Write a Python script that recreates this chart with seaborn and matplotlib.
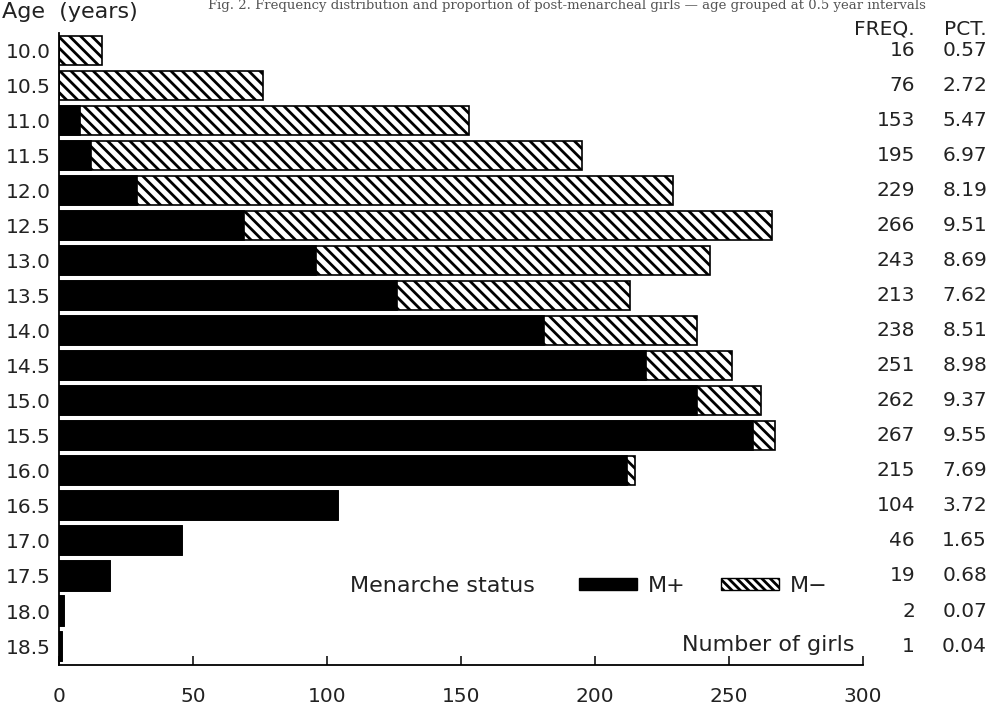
import matplotlib
matplotlib.use("Agg")
import matplotlib.pyplot as plt
import matplotlib.patches as mpatches
import matplotlib.transforms as mtransforms
import pandas as pd
import seaborn as sns

# --- data ---
ages = ["10.0", "10.5", "11.0", "11.5", "12.0", "12.5", "13.0", "13.5", "14.0",
        "14.5", "15.0", "15.5", "16.0", "16.5", "17.0", "17.5", "18.0", "18.5"]
freq = [16, 76, 153, 195, 229, 266, 243, 213, 238,
        251, 262, 267, 215, 104, 46, 19, 2, 1]
pct = ["0.57", "2.72", "5.47", "6.97", "8.19", "9.51", "8.69", "7.62", "8.51",
       "8.98", "9.37", "9.55", "7.69", "3.72", "1.65", "0.68", "0.07", "0.04"]
m_plus = [0, 0, 8, 12, 29, 69, 96, 126, 181,
          219, 238, 259, 212, 104, 46, 19, 2, 1]

df = pd.DataFrame({"age": ages, "total": freq, "mplus": m_plus})

sns.set_style("white")
plt.rcParams["font.family"] = ["DejaVu Sans"]
plt.rcParams["hatch.linewidth"] = 2.0
plt.rcParams["hatch.color"] = "black"
TXT = "#222222"

fig = plt.figure(figsize=(9.95, 7.15), dpi=100)
ax = fig.add_axes([0.0593, 0.0699, 0.808, 0.8846])

# totals drawn hatched (M-), then M+ in black over them
sns.barplot(data=df, x="total", y="age", order=ages, orient="h", ax=ax,
            color="white", saturation=1, width=0.83, edgecolor="black",
            linewidth=1.2, hatch="\\\\\\")
sns.barplot(data=df, x="mplus", y="age", order=ages, orient="h", ax=ax,
            color="black", saturation=1, width=0.83, edgecolor="black",
            linewidth=1.2)

ax.set_xlim(0, 300)
ax.set_ylim(17.54, -0.5)
ax.set_xticks([0, 50, 100, 150, 200, 250, 300])
ax.tick_params(axis="x", direction="in", length=6.5, width=1.3, pad=16,
               labelsize=14.5, labelcolor=TXT, bottom=True)
ax.tick_params(axis="y", length=0, pad=6, labelsize=14.5, labelcolor=TXT)
ax.set_ylabel("")
for s in ["top", "right"]:
    ax.spines[s].set_visible(False)
for s in ["bottom", "left"]:
    ax.spines[s].set_linewidth(1.3)
    ax.spines[s].set_color("black")

ax.set_xlabel("Number of girls", fontsize=16, color=TXT, ha="right", va="center")
ax.xaxis.set_label_coords(0.99, 0.032)

# frequency / percentage columns on the right
trans = mtransforms.blended_transform_factory(fig.transFigure, ax.transData)
ax.text(0.9196, -0.6, "FREQ.", transform=trans, ha="right", va="center",
        fontsize=14.5, color=TXT)
ax.text(0.992, -0.6, "PCT.", transform=trans, ha="right", va="center",
        fontsize=14.5, color=TXT)
for i, (f, p) in enumerate(zip(freq, pct)):
    ax.text(0.9196, i, str(f), transform=trans, ha="right", va="center",
            fontsize=14.5, color=TXT)
    ax.text(0.992, i, p, transform=trans, ha="right", va="center",
            fontsize=14.5, color=TXT)

fig.text(0.002, 0.983, "Age  (years)", ha="left", va="center", fontsize=16, color=TXT)

# legend
ax.text(0.362, 0.125, "Menarche status", transform=ax.transAxes, ha="left",
        va="center", fontsize=16, color=TXT)
h_plus = mpatches.Rectangle((0, 0), 1, 1, facecolor="black", edgecolor="black")
h_minus = mpatches.Rectangle((0, 0), 1, 1, facecolor="white", edgecolor="black",
                             hatch="\\\\\\\\")
ax.legend([h_plus, h_minus], ["M+", "M\u2212"], ncol=2, frameon=False,
          loc="center left", bbox_to_anchor=(0.633, 0.125), borderpad=0,
          handlelength=2.6, handleheight=0.4, handletextpad=0.5,
          columnspacing=1.6, fontsize=16, labelcolor=TXT)

# caption line at the very top of the scan
fig.text(0.57, 0.992, "Fig. 2. Frequency distribution and proportion of post-menarcheal girls \u2014 age grouped at 0.5 year intervals",
         ha="center", va="center", fontsize=9.5, family="serif", color="#555555")

fig.savefig("out.png", dpi=100)
